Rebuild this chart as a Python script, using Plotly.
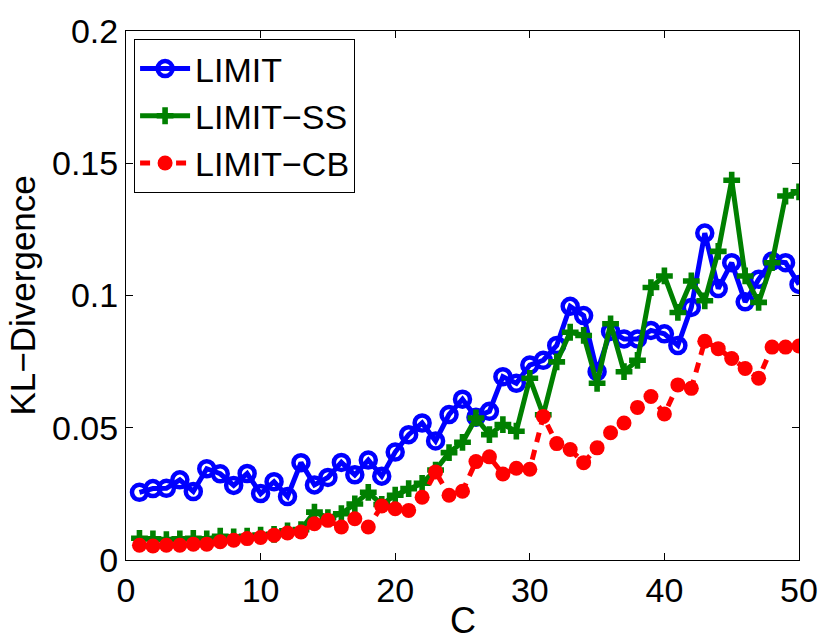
import plotly.graph_objects as go

# number of clusters C
c_values = list(range(1, 51))

# KL-divergence
limit = [
    0.0256, 0.0270, 0.0271, 0.0303, 0.0259, 0.0345, 0.0326, 0.0282, 0.0327, 0.0251,
    0.0296, 0.0240, 0.0368, 0.0284, 0.0312, 0.0369, 0.0322, 0.0378, 0.0317, 0.0408,
    0.0474, 0.0518, 0.0450, 0.0550, 0.0608, 0.0540, 0.0562, 0.0693, 0.0668, 0.0737,
    0.0755, 0.0811, 0.0959, 0.0924, 0.0712, 0.0864, 0.0836, 0.0836, 0.0868, 0.0855,
    0.0811, 0.0955, 0.1236, 0.1026, 0.1124, 0.0976, 0.1061, 0.1130, 0.1124, 0.1042,
]
limit_ss = [
    0.0082, 0.0080, 0.0077, 0.0080, 0.0082, 0.0080, 0.0090, 0.0087, 0.0090, 0.0094,
    0.0097, 0.0110, 0.0115, 0.0181, 0.0160, 0.0175, 0.0212, 0.0256, 0.0210, 0.0245,
    0.0270, 0.0290, 0.0340, 0.0406, 0.0445, 0.0537, 0.0474, 0.0512, 0.0487, 0.0687,
    0.0549, 0.0749, 0.0861, 0.0849, 0.0668, 0.0893, 0.0712, 0.0755, 0.1030, 0.1074,
    0.0936, 0.1055, 0.0980, 0.1167, 0.1436, 0.1074, 0.0974, 0.1124, 0.1376, 0.1392,
]
limit_cb = [
    0.0056, 0.0053, 0.0056, 0.0056, 0.0060, 0.0060, 0.0069, 0.0075, 0.0081, 0.0085,
    0.0094, 0.0102, 0.0106, 0.0137, 0.0150, 0.0125, 0.0156, 0.0125, 0.0204, 0.0194,
    0.0187, 0.0237, 0.0333, 0.0245, 0.0260, 0.0372, 0.0390, 0.0325, 0.0347, 0.0343,
    0.0543, 0.0440, 0.0418, 0.0368, 0.0424, 0.0481, 0.0518, 0.0577, 0.0618, 0.0552,
    0.0662, 0.0649, 0.0827, 0.0799, 0.0762, 0.0724, 0.0687, 0.0805, 0.0805, 0.0809,
]

x_ticks = [0, 10, 20, 30, 40, 50]
y_ticks = [0, 0.05, 0.1, 0.15, 0.2]
y_tick_text = ["0", "0.05", "0.1", "0.15", "0.2"]

fig = go.Figure()

fig.add_trace(go.Scatter(
    x=c_values, y=limit, name="LIMIT", mode="lines+markers",
    line=dict(color="#0000ff", width=5),
    marker=dict(symbol="circle-open", size=15, color="#0000ff", line=dict(width=4.5, color="#0000ff")),
))
fig.add_trace(go.Scatter(
    x=c_values, y=limit_ss, name="LIMIT\u2212SS", mode="lines+markers",
    line=dict(color="#008000", width=5),
    marker=dict(symbol="cross", size=14, color="#008000"),
))
fig.add_trace(go.Scatter(
    x=c_values, y=limit_cb, name="LIMIT\u2212CB", mode="lines+markers",
    line=dict(color="#ff0000", width=5, dash="10px,8px"),
    marker=dict(symbol="circle", size=15, color="#ff0000"),
))

axis_style = dict(
    showline=True, linecolor="black", linewidth=1, mirror="ticks",
    ticks="inside", ticklen=7, tickcolor="black",
    showgrid=False, zeroline=False,
    tickfont=dict(size=34, color="black"),
    ticklabeloverflow="allow",
)

# axis titles as annotations so they sit where the original has them
fig.add_annotation(text="KL\u2212Divergence", xref="paper", yref="paper", x=0, y=0.5,
                   xanchor="center", yanchor="middle", xshift=-104, textangle=-90,
                   showarrow=False, font=dict(size=35))
fig.add_annotation(text="C", xref="paper", yref="paper", x=0.5, y=0,
                   xanchor="center", yanchor="middle", yshift=-60,
                   showarrow=False, font=dict(size=36))

fig.update_layout(
    width=830, height=643,
    margin=dict(l=126, r=27, t=26, b=83),
    paper_bgcolor="white", plot_bgcolor="white",
    font=dict(family="Liberation Sans, Arial, sans-serif", size=34, color="black"),
    showlegend=True,
    legend=dict(
        x=0.012, y=0.985, xanchor="left", yanchor="top",
        bordercolor="black", borderwidth=1, bgcolor="white",
        font=dict(size=34), tracegroupgap=0, itemwidth=50,
    ),
    xaxis=dict(range=[0, 50], tickvals=x_ticks, **axis_style),
    yaxis=dict(range=[0, 0.2], tickvals=y_ticks, ticktext=y_tick_text, **axis_style),
)

# drop the browser's default body margin so the figure fills the window
fig.write_html(
    "out.html",
    config={"displayModeBar": False},
    post_script="document.body.style.margin = '0';",
)
